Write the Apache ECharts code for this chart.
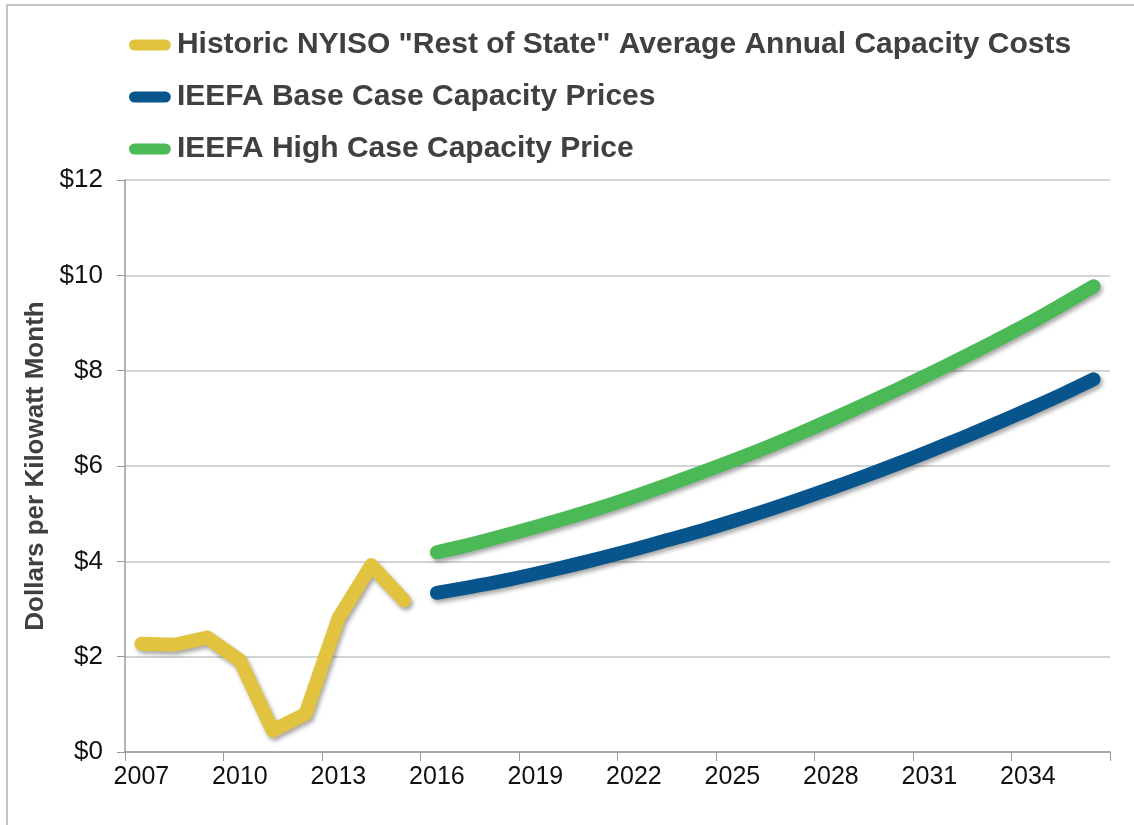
<!DOCTYPE html>
<html>
<head>
<meta charset="utf-8">
<title>NYISO capacity prices</title>
<script src="https://cdn.jsdelivr.net/npm/echarts@6/dist/echarts.min.js"></script>
<style>
  html, body { margin: 0; padding: 0; background: #fff; }
  #chart { width: 1134px; height: 825px; }
</style>
</head>
<body>
<div id="chart"></div>
<script>
// years on the category axis
const years = [];
for (let y = 2007; y <= 2036; y++) years.push(String(y));

// historic NYISO "rest of state" capacity costs, 2007-2015
const historic = [2.27, 2.25, 2.40, 1.92, 0.45, 0.80, 2.80, 3.92, 3.18];

// IEEFA projections, 2016-2036
const baseCase = [3.34, 3.46, 3.59, 3.74, 3.90, 4.07, 4.25, 4.44, 4.63, 4.84, 5.06,
  5.29, 5.53, 5.78, 6.04, 6.31, 6.59, 6.88, 7.18, 7.49, 7.82];
const highCase = [4.19, 4.35, 4.53, 4.72, 4.92, 5.13, 5.36, 5.60, 5.85, 6.11, 6.38,
  6.67, 6.97, 7.28, 7.60, 7.93, 8.27, 8.62, 8.98, 9.37, 9.77];

const yTicks = [0, 2, 4, 6, 8, 10, 12];

// pad the series so they line up with the year axis
const nHist = historic.length;
const histData = years.map((y, i) => (i < nHist ? historic[i] : null));
const baseData = years.map((y, i) => (i >= nHist ? baseCase[i - nHist] : null));
const highData = years.map((y, i) => (i >= nHist ? highCase[i - nHist] : null));

const names = [
  'Historic NYISO "Rest of State" Average Annual Capacity Costs',
  'IEEFA Base Case Capacity Prices',
  'IEEFA High Case Capacity Price'
];
const colors = ['#E2C33F', '#07558C', '#4BB956'];

function lineSeries (name, data, color, smooth) {
  return {
    name: name,
    type: 'line',
    data: data,
    smooth: smooth,
    symbol: 'none',
    connectNulls: false,
    lineStyle: {
      width: 14,
      color: color,
      cap: 'round',
      join: 'round',
      shadowColor: 'rgba(0,0,0,0.35)',
      shadowBlur: 4,
      shadowOffsetX: 2,
      shadowOffsetY: 3
    },
    itemStyle: { color: color }
  }
}

const chart = echarts.init(document.getElementById('chart'), null, { renderer: 'canvas' });

chart.setOption({
  animation: false,
  backgroundColor: '#ffffff',
  textStyle: { fontFamily: 'Liberation Sans, Arial, sans-serif' },
  graphic: [{
    type: 'rect',
    shape: { x: 7, y: 5, width: 1200, height: 900 },
    style: { fill: 'none', stroke: '#c4c4c4', lineWidth: 2 }
  }],
  legend: {
    orient: 'vertical',
    left: 124,
    top: 24,
    itemWidth: 44,
    itemHeight: 11,
    itemGap: 20,
    icon: 'path://M5,0 H33 A5,5 0 0 1 33,10 H5 A5,5 0 0 1 5,0 Z',
    data: names,
    textStyle: {
      color: '#404040',
      fontWeight: 'bold',
      fontSize: 30,
      lineHeight: 32,
      fontFamily: 'Liberation Sans, Arial, sans-serif'
    }
  },
  grid: { left: 125, right: 24, top: 180, bottom: 73, containLabel: false },
  xAxis: {
    type: 'category',
    data: years,
    boundaryGap: true,
    axisLine: { lineStyle: { color: '#9a9a9a', width: 1.5 } },
    axisTick: { show: true, interval: 2, length: 9, lineStyle: { color: '#9a9a9a' } },
    axisLabel: {
      interval: 2,
      color: '#111',
      fontSize: 25,
      margin: 13
    },
    splitLine: { show: false }
  },
  yAxis: {
    type: 'value',
    min: yTicks[0],
    max: yTicks[yTicks.length - 1],
    interval: 2,
    name: 'Dollars per Kilowatt Month',
    nameLocation: 'middle',
    nameGap: 74,
    nameTextStyle: { color: '#404040', fontWeight: 'bold', fontSize: 26 },
    axisLine: { show: true, lineStyle: { color: '#9a9a9a', width: 1.5 } },
    axisTick: { show: true, length: 8, lineStyle: { color: '#9a9a9a' } },
    axisLabel: {
      color: '#111',
      fontSize: 26,
      margin: 22,
      formatter: v => '$' + v
    },
    splitLine: { lineStyle: { color: '#c4c4c4', width: 1.5 } }
  },
  series: [
    lineSeries(names[0], histData, colors[0], false),
    lineSeries(names[1], baseData, colors[1], 0.3),
    lineSeries(names[2], highData, colors[2], 0.3)
  ]
});
</script>
</body>
</html>
